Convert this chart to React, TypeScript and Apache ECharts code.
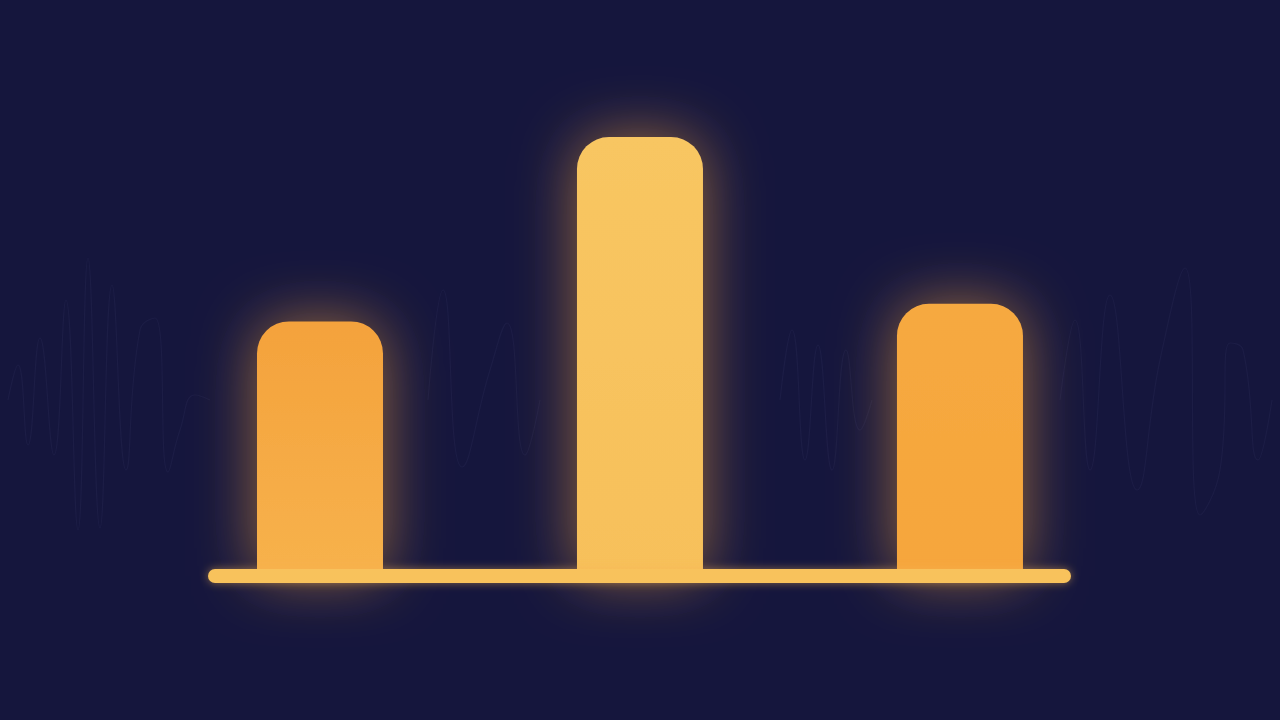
import React, { useEffect, useRef } from "react";
import * as echarts from "echarts";

const categories = ["A", "B", "C"];
const positions = [1, 2, 3];
const values = [58, 100, 62];
const topColors = ["#f4a23c", "#f8c662", "#f6a940"];
const bottomColors = ["#f7b24c", "#f7c05a", "#f6a63c"];
const xMin = 0.65;
const xMax = 3.347;

// faint decorative wave traces in the background
const waveLeft: [number, number][] = [
  [8, 400], [18, 365], [28, 445], [40, 338], [54, 455], [66, 300], [78, 530], [88, 258],
  [100, 528], [112, 285], [126, 470], [140, 330], [155, 318], [168, 472], [180, 430], [195, 395], [210, 400],
];
const waveMid: [number, number][] = [
  [428, 400], [443, 290], [462, 467], [490, 370], [507, 323], [525, 455], [540, 400],
];
const waveRight1: [number, number][] = [
  [780, 400], [792, 330], [805, 460], [818, 345], [832, 470], [846, 350], [860, 430], [872, 400],
];
const waveRight2: [number, number][] = [
  [1060, 400], [1075, 320], [1090, 470], [1110, 295], [1137, 490], [1160, 360], [1185, 268],
  [1200, 515], [1220, 470], [1230, 343], [1243, 350], [1258, 460], [1272, 400],
];

export default function App() {
  const ref = useRef<HTMLDivElement>(null);
  useEffect(() => {
    if (!ref.current) return;
    const chart = echarts.init(ref.current, undefined, { renderer: "svg" });
    const waveData: any[] = [];
    [waveLeft, waveMid, waveRight1, waveRight2].forEach((seg, i) => {
      if (i > 0) waveData.push([null, null]);
      seg.forEach((p) => waveData.push(p));
    });
    chart.setOption({
      animation: false,
      backgroundColor: "#15163d",
      grid: [
        { left: 0, right: 0, top: 0, bottom: 0 },
        { left: 208, right: 209, top: 137, bottom: 144 },
      ],
      xAxis: [
        { type: "value", gridIndex: 0, min: 0, max: 1280, show: false },
        {
          type: "value",
          gridIndex: 1,
          min: xMin,
          max: xMax,
          axisLine: { show: false },
          axisTick: { show: false },
          axisLabel: { show: false },
          splitLine: { show: false },
        },
      ],
      yAxis: [
        { type: "value", gridIndex: 0, min: 0, max: 720, inverse: true, show: false },
        {
          type: "value",
          gridIndex: 1,
          min: 0,
          max: 100,
          axisLine: { show: false },
          axisTick: { show: false },
          axisLabel: { show: false },
          splitLine: { show: false },
        },
      ],
      series: [
        {
          type: "line",
          xAxisIndex: 0,
          yAxisIndex: 0,
          data: waveData,
          smooth: 0.5,
          symbol: "none",
          connectNulls: false,
          lineStyle: { color: "rgba(100,105,160,0.09)", width: 1.2 },
          silent: true,
          z: 1,
        },
        {
          type: "bar",
          xAxisIndex: 1,
          yAxisIndex: 1,
          barWidth: 126,
          z: 3,
          data: values.map((v, i) => ({
            name: categories[i],
            value: [positions[i], v],
            itemStyle: {
              borderRadius: [32, 32, 0, 0],
              color: new echarts.graphic.LinearGradient(0, 0, 0, 1, [
                { offset: 0, color: topColors[i] },
                { offset: 1, color: bottomColors[i] },
              ]),
              shadowBlur: 60,
              shadowColor: "rgba(240,160,60,0.6)",
            },
          })),
        },
        {
          type: "custom",
          xAxisIndex: 1,
          yAxisIndex: 1,
          z: 5,
          silent: true,
          data: [[xMin, xMax]],
          renderItem: (params: any, api: any) => {
            const a = api.coord([api.value(0), 0]);
            const b = api.coord([api.value(1), 0]);
            return {
              type: "rect",
              shape: { x: a[0], y: a[1] - 7, width: b[0] - a[0], height: 14, r: 7 },
              style: {
                fill: "#f8c25c",
                shadowBlur: 8,
                shadowColor: "rgba(247,180,80,0.5)",
              },
            };
          },
        },
      ],
    });
    return () => chart.dispose();
  }, []);
  return (
    <div
      ref={ref}
      style={{ position: "fixed", left: 0, top: 0, width: 1280, height: 720, background: "#15163d" }}
    />
  );
}
